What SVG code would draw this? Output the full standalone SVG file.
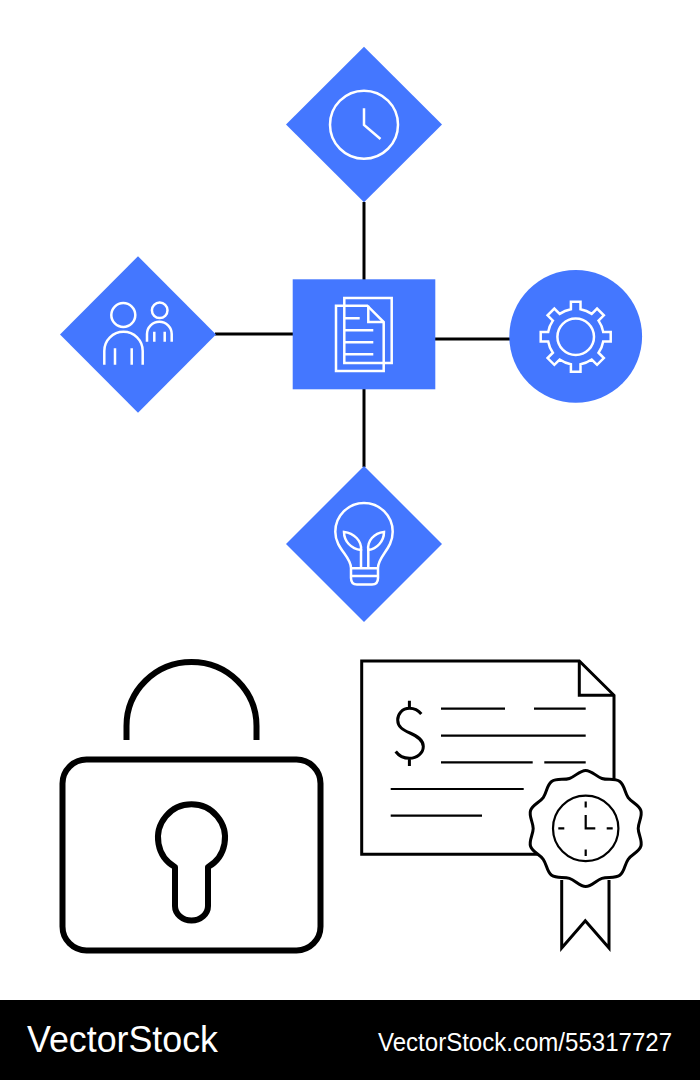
<svg xmlns="http://www.w3.org/2000/svg" width="700" height="1080" viewBox="0 0 700 1080">
<style>
.blue{fill:#4477ff}
.w{fill:none;stroke:#fff;stroke-width:2.5;stroke-linecap:butt;stroke-linejoin:miter}
.conn{fill:none;stroke:#000;stroke-width:3}
.k{fill:none;stroke:#000;stroke-width:2.2}
.k2{fill:none;stroke:#000;stroke-width:3;stroke-linejoin:miter}
.lock{fill:none;stroke:#000;stroke-width:6;stroke-linejoin:round}
.foot{fill:#fff;font-family:"Liberation Sans",Arial,sans-serif}
</style>
<rect width="700" height="1080" fill="#fff"/>
<g id="connectors">
<path class="conn" d="M364 202V280M364 389V467M215 334H293M435 339H510"/>
</g>
<g id="node-clock">
<polygon class="blue" points="364,46.7 442,124.5 364,202.3 286,124.5"/>
<circle class="w" cx="364" cy="124.7" r="34"/>
<path class="w" d="M364 108.3V125L380.5 139"/>
</g>
<g id="node-people">
<polygon class="blue" points="138,256.3 216,334.5 138,412.7 60,334.5"/>
<circle class="w" cx="123.3" cy="315" r="12"/>
<path class="w" d="M104.3 364.7V351A19.2 19.2 0 0 1 142.7 351V364.7M115 348.3V364.7M131.7 348.3V364.7"/>
<circle class="w" cx="159.7" cy="310.3" r="7.8"/>
<path class="w" d="M147 341.7V334A12.35 12.35 0 0 1 171.7 334V341.7M154.3 331.7V341.7M164.7 331.7V341.7"/>
</g>
<g id="node-documents">
<rect class="blue" x="292.7" y="279.3" width="142.6" height="110"/>
<path class="w" d="M344.3 305.7V298H391.7V363H344.3V305.7"/>
<path class="w" d="M336 305.7H367.3L383.7 322V371H336Z"/>
<path class="w" d="M368.3 305.7V322H383.7M344.3 318.3H359.7M344.3 330.3H373.3M344.3 342.3H373.3M344.3 354.3H373.3"/>
</g>
<g id="node-gear">
<circle class="blue" cx="575.7" cy="336.4" r="66.4"/>
<g transform="translate(575.7 336.7)">
<circle class="w" r="18.3"/>
<path class="w" d="M-4.8 -27.5V-35H4.8V-27.5A28 28 0 0 1 16.05 -22.84L21.36 -28.14L28.14 -21.36L22.84 -16.05A28 28 0 0 1 27.5 -4.8H35V4.8H27.5A28 28 0 0 1 22.84 16.05L28.14 21.36L21.36 28.14L16.05 22.84A28 28 0 0 1 4.8 27.5V35H-4.8V27.5A28 28 0 0 1 -16.05 22.84L-21.36 28.14L-28.14 21.36L-22.84 16.05A28 28 0 0 1 -27.5 4.8H-35V-4.8H-27.5A28 28 0 0 1 -22.84 -16.05L-28.14 -21.36L-21.36 -28.14L-16.05 -22.84A28 28 0 0 1 -4.8 -27.5Z"/>
</g>
</g>
<g id="node-bulb">
<polygon class="blue" points="364,466 442,544 364,622 286,544"/>
<path class="w" d="M351 568C351 556 335.3 549 335.3 531.7A28.7 28.7 0 1 1 392.7 531.7C392.7 549 378 556 378 568V578Q378 584.5 372 584.5H357Q351 584.5 351 578ZM351 568.3H378M351 576H378M361 549V568M368.3 549V568"/>
<path class="w" d="M344 532C354 533 362 541 361 550C351 549 344 541 344 532ZM384 532C374 533 367 541 368.3 550C377 549 384 541 384 532Z"/>
</g>
<g id="padlock">
<path class="lock" d="M126.5 740V726A65 64 0 0 1 256.5 726V740"/>
<rect class="lock" x="62.5" y="759.5" width="258" height="191" rx="24"/>
<path class="lock" d="M175 867A33.5 33.5 0 1 1 208 867V906A16.5 14.5 0 0 1 175 906Z"/>
</g>
<g id="certificate">
<path class="k2" d="M561.7 880V948L585.3 920.7L609 948V880"/>
<path class="k2" d="M614 780V695.3L579.3 661H361.7V854.3H540"/>
<path class="k2" d="M579.3 661V695.3H614"/>
<path class="k2" d="M421.3 714C418 710 414 708.3 409.5 708.3C402 708.3 397.7 714 397.7 720C397.7 727 403 730 410 733C418 736.5 423.3 740 423.3 746.5C423.3 753 417 758.3 409.5 758.3C404 758.3 399 756 395.7 751.5M409.4 700.7V708.3M409.4 758.3V766"/>
<path class="k" d="M441 708.7H505M534 708.7H585.7M441 735.7H585.7M441 762.3H532.7M544.3 762.3H585.7M390.7 789H523.7M390.7 815.7H482"/>
<g transform="translate(585.7 828.4)">
<path d="M0 -58C6 -58 10.51 -51.78 16.22 -49.93C21.93 -48.08 29.24 -50.45 34.09 -46.92C38.94 -43.39 38.94 -35.71 42.47 -30.86C46 -26.01 53.31 -23.63 55.16 -17.92C57.01 -12.21 52.5 -6 52.5 0C52.5 6 57.01 12.21 55.16 17.92C53.31 23.63 46 26.01 42.47 30.86C38.94 35.71 38.94 43.39 34.09 46.92C29.24 50.45 21.93 48.08 16.22 49.93C10.51 51.78 6 58 0 58C-6 58 -10.51 51.78 -16.22 49.93C-21.93 48.08 -29.24 50.45 -34.09 46.92C-38.94 43.39 -38.94 35.71 -42.47 30.86C-46 26.01 -53.31 23.63 -55.16 17.92C-57.01 12.21 -52.5 6 -52.5 0C-52.5 -6 -57.01 -12.21 -55.16 -17.92C-53.31 -23.63 -46 -26.01 -42.47 -30.86C-38.94 -35.71 -38.94 -43.39 -34.09 -46.92C-29.24 -50.45 -21.93 -48.08 -16.22 -49.93C-10.51 -51.78 -6 -58 0 -58Z" fill="#fff" stroke="#000" stroke-width="3"/>
<circle class="k" r="32.7"/>
<path class="k" d="M0 -27V-21M0 21V27.5M-27.4 0H-21.4M21 0H27M0 -13.4V0H9.6"/>
</g>
</g>
<g id="footer">
<rect y="1000" width="700" height="80" fill="#000"/>
<text class="foot" x="27" y="1052" font-size="37" textLength="191" lengthAdjust="spacingAndGlyphs">VectorStock</text>
<text class="foot" x="378" y="1051" font-size="25" textLength="294" lengthAdjust="spacingAndGlyphs">VectorStock.com/55317727</text>
</g>
</svg>
